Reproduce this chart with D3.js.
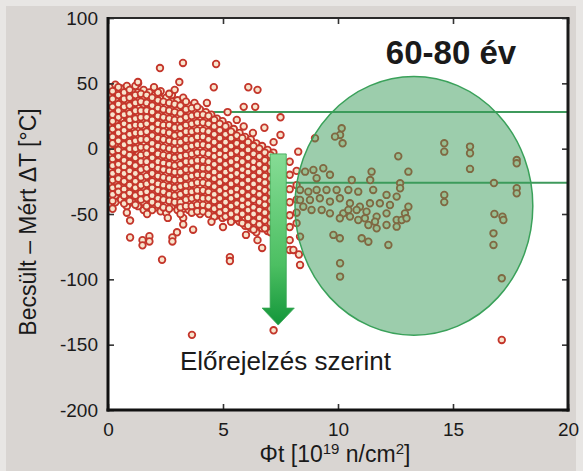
<!DOCTYPE html>
<html>
<head>
<meta charset="utf-8">
<script src="https://cdn.jsdelivr.net/npm/d3@7"></script>
<style>
  body { margin: 0; background: #e8e6e4; }
  text { font-family: "Liberation Sans", Arial, sans-serif; fill: #1a1a1a; }
</style>
</head>
<body>
<svg id="chart" width="583" height="471"></svg>
<script>
// axis ticks
var xTicks = [0, 5, 10, 15, 20]
var yTicks = [100, 50, 0, -50, -100, -150, -200]

// horizontal band lines: [value, start x]
var bandLines = [[28, 0], [-26, 0]]

// dense cluster read column by column: [fluence, [delta T values]]
var clusterCols = [
  [0.08, [47, 41, 35, 30, 24, 18, 13, 7, 1, -4, -10, -16, -22, -27, -33, -38]],
  [0.32, [49, 44, 38, 32, 27, 21, 15, 10, 4, -2, -7, -13, -19, -25, -30, -36, -41]],
  [0.57, [46, 40, 35, 29, 23, 18, 12, 6, 1, -5, -11, -16, -22, -28, -34, -39]],
  [0.82, [48, 42, 37, 31, 25, 20, 14, 8, 3, -3, -8, -14, -20, -25, -31, -37, -44, -49]],
  [1.06, [45, 39, 33, 28, 22, 16, 11, 5, -1, -6, -12, -18, -23, -29, -35, -41]],
  [1.31, [50, 43, 37, 31, 25, 19, 14, 8, 2, -4, -9, -15, -21, -27, -32, -38, -44]],
  [1.55, [45, 40, 34, 28, 22, 17, 11, 5, -1, -7, -12, -18, -24, -30, -35, -41, -47]],
  [1.8, [43, 37, 31, 26, 20, 14, 8, 3, -3, -9, -14, -20, -26, -32, -38, -43]],
  [2.04, [41, 35, 29, 23, 18, 12, 6, 0, -5, -11, -17, -22, -28, -34, -40, -45]],
  [2.29, [44, 38, 32, 26, 20, 15, 9, 3, -3, -8, -14, -20, -26, -31, -37, -43, -48]],
  [2.53, [39, 33, 27, 21, 16, 10, 4, -2, -7, -13, -19, -25, -30, -36, -42, -49]],
  [2.78, [41, 36, 30, 24, 18, 12, 7, 1, -5, -11, -16, -22, -28, -34, -39, -44]],
  [3.02, [37, 31, 25, 19, 14, 8, 2, -4, -9, -15, -21, -27, -32, -38, -43, -47]],
  [3.27, [39, 33, 28, 22, 16, 10, 4, -1, -7, -13, -18, -24, -30, -36, -41, -46, -53, -58]],
  [3.51, [33, 27, 21, 15, 10, 4, -2, -8, -13, -19, -25, -31, -36, -42, -47]],
  [3.76, [35, 29, 23, 17, 12, 6, 0, -6, -11, -17, -23, -29, -34, -40, -45]],
  [4.0, [30, 24, 18, 12, 7, 1, -5, -10, -16, -22, -28, -33, -39, -44, -50]],
  [4.25, [28, 22, 16, 10, 5, -1, -7, -12, -18, -24, -30, -35, -41, -46]],
  [4.49, [26, 20, 14, 8, 3, -3, -9, -14, -20, -26, -32, -37, -43, -48]],
  [4.74, [23, 17, 11, 6, 0, -6, -11, -17, -23, -29, -34, -40, -45, -51]],
  [4.98, [21, 15, 9, 3, -2, -8, -14, -20, -25, -31, -37, -42, -48, -53]],
  [5.23, [18, 12, 6, 1, -5, -11, -16, -22, -28, -34, -39, -45, -50]],
  [5.47, [15, 9, 3, -2, -8, -14, -19, -25, -31, -36, -42, -48, -54]],
  [5.72, [12, 6, 0, -6, -11, -17, -23, -28, -34, -40, -45, -51, -56]],
  [5.96, [9, 3, -3, -8, -14, -20, -26, -31, -37, -43, -48, -54, -59]],
  [6.21, [7, 1, -5, -11, -16, -22, -28, -33, -39, -45, -50, -56, -61]],
  [6.45, [4, -2, -8, -13, -19, -25, -30, -36, -42, -47, -53, -59, -64]],
  [6.7, [2, -4, -10, -16, -21, -27, -33, -38, -44, -50, -55, -61]],
  [6.94, [-1, -7, -12, -18, -24, -29, -35, -41, -46, -52, -58, -63]],
  [7.19, [-3, -9, -15, -20, -26, -32, -37, -43, -49, -54, -60]],
  [7.5, [-8, -18, -28, -38, -48, -58]],
  [7.9, [-10, -20, -31, -41, -51, -60, -70]],
  [8.2, [-17, -28, -39, -49, -57]]
]

// second pass over the cluster, points sitting between the columns above
var clusterCols2 = [
  [0.2, [44, 38, 32, 26, 21, 15, 9, 4, -2, -8, -13, -19, -24, -30, -35, -40, -46]],
  [0.45, [47, 41, 34, 29, 24, 17, 12, 6, -1, -6, -12, -17, -23, -29, -33]],
  [0.7, [43, 38, 32, 26, 19, 14, 9, 3, -3, -9, -14, -19, -25, -31, -36, -42]],
  [0.94, [45, 39, 33, 27, 22, 17, 11, 5, 0, -5, -11, -17, -22, -28, -34, -40]],
  [1.19, [48, 41, 35, 29, 23, 18, 12, 6, 0, -7, -13, -19, -25, -30, -36, -43]],
  [1.43, [42, 36, 29, 24, 18, 12, 7, 1, -5, -10, -16, -22, -28, -34, -39]],
  [1.68, [41, 35, 29, 24, 19, 13, 7, 1, -4, -10, -15, -21, -27, -33, -38, -44]],
  [1.92, [39, 33, 28, 22, 16, 10, 4, -1, -7, -13, -19, -25, -30, -36, -41, -47]],
  [2.17, [43, 37, 31, 25, 19, 14, 8, 2, -4, -10, -15, -21, -27, -32, -38, -43]],
  [2.41, [36, 30, 24, 18, 13, 7, 1, -5, -11, -16, -22, -28, -33, -39, -45]],
  [2.66, [42, 35, 29, 23, 18, 12, 6, 0, -6, -12, -17, -23, -29, -35, -40, -46]],
  [2.9, [34, 28, 22, 16, 10, 5, -1, -7, -13, -18, -24, -30, -36, -41]],
  [3.15, [33, 27, 22, 16, 11, 5, -1, -6, -12, -18, -24, -29, -35, -41, -45, -50]],
  [3.39, [36, 30, 24, 18, 13, 7, 1, -5, -10, -16, -22, -28, -33, -39, -44]],
  [3.64, [31, 25, 19, 13, 7, 2, -4, -10, -16, -21, -27, -33, -38, -44, -49]],
  [3.88, [32, 26, 20, 14, 9, 3, -3, -9, -14, -20, -26, -32, -37, -43, -48]],
  [4.13, [26, 20, 14, 9, 3, -3, -9, -15, -20, -26, -32, -38, -43, -48]],
  [4.37, [25, 19, 13, 7, 2, -4, -10, -15, -21, -27, -33, -38, -44, -50]],
  [4.62, [22, 17, 11, 5, -1, -6, -12, -18, -23, -29, -35, -40, -46, -52]],
  [4.86, [19, 14, 8, 2, -4, -9, -15, -21, -26, -32, -38, -44, -49]],
  [5.11, [17, 11, 5, -1, -6, -12, -18, -24, -30, -35, -41, -47, -52]],
  [5.35, [13, 8, 2, -4, -10, -16, -21, -27, -33, -38, -44, -50, -56]],
  [5.6, [10, 4, -2, -8, -13, -19, -25, -31, -36, -42, -48, -53]],
  [5.84, [8, 2, -4, -10, -16, -21, -27, -33, -39, -44, -50, -57]],
  [6.09, [5, -1, -7, -13, -18, -24, -30, -36, -42, -47, -53, -59]],
  [6.33, [2, -4, -10, -15, -21, -27, -33, -39, -45, -50, -56, -62]],
  [6.58, [0, -6, -12, -18, -24, -30, -35, -41, -47, -53, -58]],
  [6.82, [-3, -9, -15, -21, -26, -32, -38, -43, -49, -55, -61]],
  [7.07, [-5, -11, -17, -23, -29, -34, -40, -46, -52, -57, -64]]
]

// scattered points around the cluster
var scatterExtra = [
  [2.26, 61.7], [3.26, 65.6], [4.7, 64.8], [3.1, 51], [1.3, 51], [2.0, 47], [2.9, 45], [4.6, 47],
  [6.1, 47], [6.5, 45], [5.9, 32], [6.4, 32], [4.3, 35], [5.2, 28], [5.9, 17], [6.8, 16],
  [7.5, 24], [7.5, 10.5], [6.3, 12], [7.2, 5], [5.6, 22],
  [1.7, -50], [2.6, -53], [0.96, -55], [3.0, -64], [3.7, -62], [0.96, -68], [1.5, -70],
  [1.8, -67], [2.8, -68], [1.5, -74], [1.8, -71], [2.8, -71], [2.35, -85], [5.3, -83],
  [5.3, -86], [4.5, -56], [5.0, -60], [6.5, -70], [6.7, -76], [6.0, -66], [7.2, -139],
  [3.65, -142.5], [7.9, -77.5], [8.3, -81], [8.35, -89], [8.06, -77.5], [8.27, -2.3],
  [17.12, -146.4]
]

// points under the 60-80 year ellipse
var longTermPts = [
  [10.16, 15.6], [10.09, 10.5], [10.2, 4.1], [9.87, 9.2], [9.0, 8], [12.62, -5.8], [13.06, -17.6],
  [11.46, -17.6], [10.6, -24], [11.4, -24], [12.7, -26.5], [12.7, -30.3], [8.57, -17.6],
  [8.93, -16.3], [9.36, -15], [9.65, -20], [9.07, -22.6],
  [8.35, -31.6], [8.71, -32.9], [9.07, -31.6], [9.5, -31.6], [9.94, -31.6], [10.45, -31.6],
  [10.88, -32.9], [11.53, -31.6], [12.11, -35.4], [12.55, -36.7], [13.06, -44.4], [12.91, -49.5],
  [12.55, -54.6], [12.11, -58.4], [11.68, -61], [11.32, -58.4], [10.88, -54.6], [10.52, -52],
  [10.23, -49.5], [10.08, -53.3], [9.65, -49.5], [9.29, -46.9], [8.85, -46.9], [8.49, -44.4],
  [8.35, -39.3], [8.78, -39.3], [9.21, -38], [9.65, -40.5], [10.08, -38], [10.52, -41.8],
  [10.95, -44.4], [11.39, -41.8], [11.82, -41.8], [12.26, -43.1], [12.11, -49.5], [11.68, -52],
  [11.24, -48.2], [10.81, -46.9], [10.45, -46.9], [11.17, -53.3], [11.61, -55.9], [12.55, -59.7],
  [12.77, -54.6], [12.98, -53.3],
  [9.8, -66], [10.08, -68.6], [11.03, -68.6], [11.32, -71.2], [12.19, -73.7], [8.35, -67.3],
  [14.62, 4.1], [14.62, -2.3], [15.74, 1.6], [15.74, -3.5], [15.74, -15.5], [17.77, -8.7],
  [17.77, -11.2], [16.78, -26.3], [17.77, -30.3], [17.77, -34.2], [14.62, -35.4], [14.62, -40.9],
  [16.8, -50], [17.15, -52], [17.19, -54.6], [16.76, -64.8], [16.76, -73.7], [10.09, -87.7],
  [10.09, -97.9], [17.12, -99.2]
]

// annotation shapes (data units)
var ellipse = { cx: 13.3, cy: -43.8, rx: 5.17, ry: 99 }
var arrow = { x: 7.4, top: -4, headTop: -122, tip: -135, shaft: 0.35, head: 0.7 }

var svg = d3.select("#chart")
var W = 583, H = 471
var m = { left: 108, right: 568, top: 18, bottom: 410 }

var x = d3.scaleLinear().domain([0, 20]).range([m.left, m.right])
var y = d3.scaleLinear().domain([-200, 100]).range([m.bottom, m.top])

svg.append("rect").attr("x", 6).attr("y", 6).attr("width", W - 13).attr("height", H - 6)
  .attr("fill", "#d9d5d2")
svg.append("rect").attr("x", m.left).attr("y", m.top)
  .attr("width", m.right - m.left).attr("height", m.bottom - m.top).attr("fill", "#fff")

var defs = svg.append("defs")
defs.append("clipPath").attr("id", "plotclip").append("rect")
  .attr("x", m.left).attr("y", m.top).attr("width", m.right - m.left).attr("height", m.bottom - m.top)

var grad = defs.append("linearGradient").attr("id", "arrowgrad")
  .attr("x1", 0).attr("y1", 0).attr("x2", 0).attr("y2", 1)
grad.append("stop").attr("offset", "0%").attr("stop-color", "#86dc95")
grad.append("stop").attr("offset", "65%").attr("stop-color", "#4cbf62")
grad.append("stop").attr("offset", "100%").attr("stop-color", "#13963a")

var plot = svg.append("g").attr("clip-path", "url(#plotclip)")

plot.selectAll(".band")
  .data(bandLines)
  .enter().append("line")
  .attr("class", "band")
  .attr("x1", d => x(d[1])).attr("x2", x(20))
  .attr("y1", d => y(d[0])).attr("y2", d => y(d[0]))
  .attr("stroke", "#3f9a5c").attr("stroke-width", 2)

var points = []
clusterCols.concat(clusterCols2).forEach(c => c[1].forEach(v => points.push([c[0], v])))
points = points.concat(scatterExtra, longTermPts)

plot.selectAll(".pt")
  .data(points)
  .enter().append("circle")
  .attr("class", "pt")
  .attr("cx", d => x(d[0]))
  .attr("cy", d => y(d[1]))
  .attr("r", 3.3)
  .attr("fill", "#f7e4cc")
  .attr("stroke", "#c4362b")
  .attr("stroke-width", 1.8)

plot.append("ellipse")
  .attr("cx", x(ellipse.cx)).attr("cy", y(ellipse.cy))
  .attr("rx", x(ellipse.rx) - x(0)).attr("ry", y(0) - y(ellipse.ry))
  .attr("fill", "#3a9b5a").attr("fill-opacity", 0.5)
  .attr("stroke", "#3aa15a").attr("stroke-width", 1.5)

var ax = [x(arrow.x - arrow.head), x(arrow.x - arrow.shaft), x(arrow.x + arrow.shaft), x(arrow.x + arrow.head)]
var arrowPath = d3.path()
arrowPath.moveTo(ax[1], y(arrow.top))
arrowPath.lineTo(ax[2], y(arrow.top))
arrowPath.lineTo(ax[2], y(arrow.headTop))
arrowPath.lineTo(ax[3], y(arrow.headTop))
arrowPath.lineTo(x(arrow.x), y(arrow.tip))
arrowPath.lineTo(ax[0], y(arrow.headTop))
arrowPath.lineTo(ax[1], y(arrow.headTop))
arrowPath.closePath()
plot.append("path").attr("d", arrowPath.toString())
  .attr("fill", "url(#arrowgrad)").attr("stroke", "#35a552").attr("stroke-width", 0.8)

// axes, ticks pointing inward
function styleAxis(g) {
  g.select(".domain").remove()
  g.selectAll(".tick line").attr("stroke", "#333").attr("stroke-width", 1.6)
  g.selectAll(".tick text").attr("font-size", 19).attr("fill", "#1a1a1a")
    .style("font-family", '"Liberation Sans", Arial, sans-serif')
}
var plainNum = d => String(d)

svg.append("g").attr("transform", "translate(0," + m.bottom + ")")
  .call(d3.axisBottom(x).tickValues(xTicks).tickSize(-6).tickSizeOuter(0).tickPadding(13).tickFormat(plainNum))
  .call(styleAxis)
svg.append("g").attr("transform", "translate(0," + m.top + ")")
  .call(d3.axisTop(x).tickValues(xTicks).tickSize(-6).tickSizeOuter(0).tickFormat(""))
  .call(styleAxis)
svg.append("g").attr("transform", "translate(" + m.left + ",0)")
  .call(d3.axisLeft(y).tickValues(yTicks).tickSize(-6).tickSizeOuter(0).tickPadding(10).tickFormat(plainNum))
  .call(styleAxis)
svg.append("g").attr("transform", "translate(" + m.right + ",0)")
  .call(d3.axisRight(y).tickValues(yTicks).tickSize(-6).tickSizeOuter(0).tickFormat(""))
  .call(styleAxis)

// frame
svg.append("line").attr("x1", m.left).attr("x2", m.right).attr("y1", m.top).attr("y2", m.top)
  .attr("stroke", "#2a2a2a").attr("stroke-width", 2)
svg.append("line").attr("x1", m.right).attr("x2", m.right).attr("y1", m.top - 1).attr("y2", m.bottom + 1.5)
  .attr("stroke", "#1a1a1a").attr("stroke-width", 3)
svg.append("line").attr("x1", m.left).attr("x2", m.left).attr("y1", m.top - 1).attr("y2", m.bottom + 1.5)
  .attr("stroke", "#111").attr("stroke-width", 3)
svg.append("line").attr("x1", m.left - 1.5).attr("x2", m.right + 1.5).attr("y1", m.bottom).attr("y2", m.bottom)
  .attr("stroke", "#111").attr("stroke-width", 3)

// axis titles
var xt = svg.append("text").attr("x", 335).attr("y", 462).attr("text-anchor", "middle")
  .attr("font-size", 23)
xt.append("tspan").text("\u03A6t [10")
xt.append("tspan").attr("dy", -8).attr("font-size", 15).text("19")
xt.append("tspan").attr("dy", 8).text(" n/cm")
xt.append("tspan").attr("dy", -8).attr("font-size", 15).text("2")
xt.append("tspan").attr("dy", 8).text("]")

svg.append("text").attr("transform", "translate(36,222) rotate(-90)")
  .attr("text-anchor", "middle").attr("font-size", 23)
  .text("Becsült \u2013 Mért \u0394T [°C]")

// annotations
svg.append("text").attr("x", 451).attr("y", 64).attr("text-anchor", "middle")
  .attr("font-size", 33).attr("font-weight", "bold").text("60-80 év")
svg.append("text").attr("x", 180).attr("y", 370)
  .attr("font-size", 26).text("Előrejelzés szerint")
</script>
</body>
</html>
